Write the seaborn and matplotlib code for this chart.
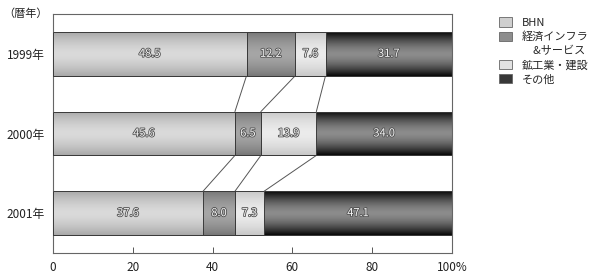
import numpy as np
import pandas as pd
import matplotlib
matplotlib.use("Agg")
import matplotlib.pyplot as plt
import matplotlib.patheffects as pe
from matplotlib.patches import Patch
import seaborn as sns

years = ["1999年", "2000年", "2001年"]
categories = ["BHN", "経済インフラ\n&サービス", "鉱工業・建設", "その他"]
bhn = [48.5, 45.6, 37.6]
infra = [12.2, 6.5, 8.0]
mining = [7.6, 13.9, 7.3]
other = [31.7, 34.0, 47.1]
xticks = [0, 20, 40, 60, 80, 100]
xticklabels = ["0", "20", "40", "60", "80", "100%"]

sns.set_theme(style="white")
plt.rcParams["font.family"] = ["Noto Sans CJK JP", "DejaVu Sans"]

series = [bhn, infra, mining, other]
# gradient colours: (edge, middle)
grad = [("#a9a9a9", "#dadada"),
        ("#787878", "#a6a6a6"),
        ("#c8c8c8", "#ececec"),
        ("#0a0a0a", "#8c8c8c")]
legend_colors = ["#cfcfcf", "#8e8e8e", "#e2e2e2", "#383838"]

df = pd.DataFrame({"year": years})
cum = np.zeros(len(years))
lefts = []
for s in series:
    lefts.append(cum.copy())
    cum = cum + np.array(s)

fig = plt.figure(figsize=(5.89, 2.73), dpi=100)
ax = fig.add_axes([53/589, 1-253/273, (452-53)/589, (253-14)/273])

bar_h = 0.55
# draw cumulative layers from right to left
for i in range(len(series) - 1, -1, -1):
    df["cum"] = lefts[i] + np.array(series[i])
    n_before = len(ax.patches)
    sns.barplot(data=df, x="cum", y="year", orient="h", width=bar_h,
                color=grad[i][1], edgecolor="#404040", linewidth=0.7,
                ax=ax, zorder=2 + (3 - i) * 2)
    for p in ax.patches[n_before:]:
        x0, y0 = p.get_x(), p.get_y()
        w, h = p.get_width(), p.get_height()
        t = np.linspace(-1, 1, 64)
        k = np.abs(t) ** 1.6
        e = np.array(matplotlib.colors.to_rgb(grad[i][0]))
        m = np.array(matplotlib.colors.to_rgb(grad[i][1]))
        img = (m[None, :] * (1 - k[:, None]) + e[None, :] * k[:, None])[:, None, :]
        im = ax.imshow(img, extent=(x0, x0 + w, y0 + h, y0), aspect="auto",
                       zorder=2 + (3 - i) * 2 + 0.5, interpolation="bilinear")
        im.set_clip_path(p)
        ax.add_patch(matplotlib.patches.Rectangle((x0, y0), w, h, fill=False,
                                                  edgecolor="#3a3a3a", linewidth=0.7,
                                                  zorder=2 + (3 - i) * 2 + 0.6))

# value labels
for i, s in enumerate(series):
    for j, v in enumerate(s):
        ax.text(lefts[i][j] + v / 2, j, f"{v:.1f}", ha="center", va="center",
                fontsize=8, color="#f4f4f4", zorder=20,
                path_effects=[pe.withStroke(linewidth=1.2, foreground="#505050")])

# connecting lines
for j in range(len(years) - 1):
    for i in range(1, len(series)):
        ax.plot([lefts[i][j], lefts[i][j + 1]], [j + bar_h / 2, j + 1 - bar_h / 2],
                color="#555555", linewidth=0.7, zorder=1)

ax.set_xlim(0, 100)
ax.set_ylim(2.5, -0.5)
ax.set_xticks(xticks)
ax.set_xticklabels(xticklabels, fontsize=8.5, color="#222222")
ax.tick_params(axis="x", direction="in", length=4, width=0.7, color="#555555", pad=6, bottom=True)
ax.tick_params(axis="y", length=0, pad=6, labelsize=8.5, labelcolor="#222222")
ax.set_xlabel("")
ax.set_ylabel("")
for sp in ax.spines.values():
    sp.set_color("#666666")
    sp.set_linewidth(0.8)

fig.text(3/589, 1-14/273, "（暦年）", fontsize=8, color="#222222", va="center", ha="left")

# legend: split two-line label so the swatch aligns with its first line
handles, labels = [], []
for c, lab in zip(legend_colors, categories):
    lines = lab.split("\n")
    handles.append(Patch(facecolor=c, edgecolor="#666666", linewidth=0.6))
    labels.append(lines[0])
    for extra in lines[1:]:
        handles.append(Patch(facecolor="none", edgecolor="none"))
        labels.append("　" + extra)
leg = fig.legend(handles, labels, loc="upper left", bbox_to_anchor=(495/589, 1-13/273),
                 frameon=False, fontsize=8, handlelength=1.1, handleheight=0.9,
                 handletextpad=0.9, labelspacing=0.33, borderaxespad=0)

fig.savefig("out.png", dpi=100)
